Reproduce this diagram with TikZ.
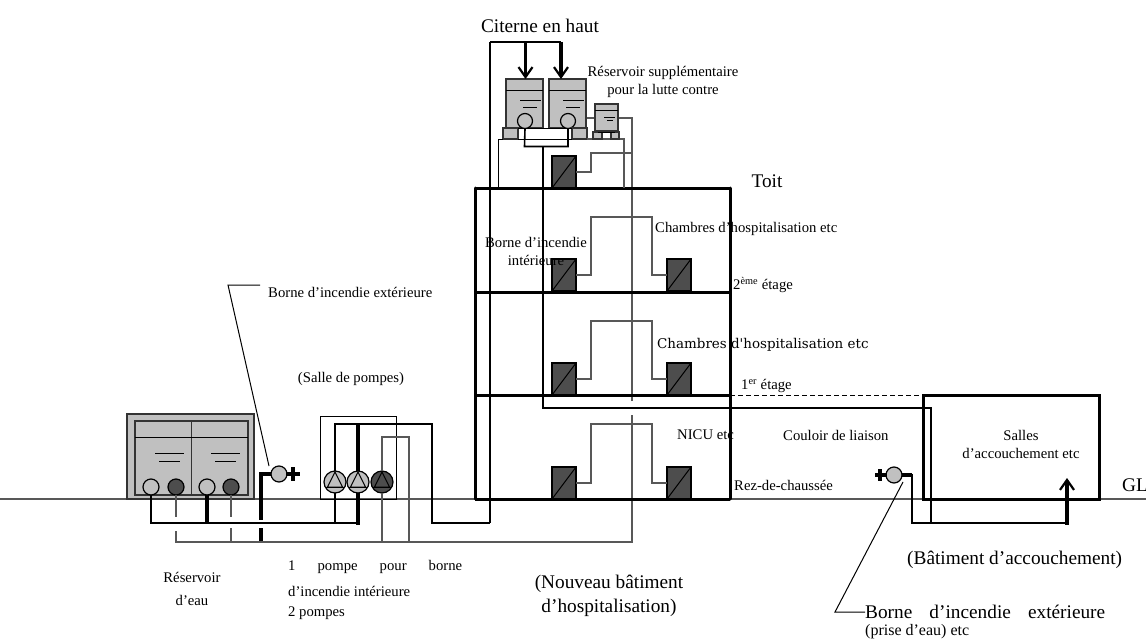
\documentclass[tikz,border=0pt]{standalone}
\usepackage{fontspec}
\setmainfont{Liberation Serif}
\newfontfamily\widefont{DejaVu Serif}
\usepackage{tikz}
\usetikzlibrary{arrows.meta,positioning,calc}
\definecolor{tankgray}{RGB}{192,192,192}
\definecolor{cabdark}{RGB}{77,77,77}
\definecolor{pipegray}{RGB}{88,88,88}
\tikzset{
  lab/.style={font=\fontsize{14.7}{18}\selectfont,inner sep=0pt,align=center},
  biglab/.style={font=\fontsize{19.3}{24}\selectfont,inner sep=0pt,align=center},
  cabinet/.style={draw=black,line width=1.4pt,fill=cabdark,minimum width=24pt,minimum height=32pt,inner sep=0pt,outer sep=0pt},
  tankbox/.style={draw=black!80,line width=1.2pt,fill=tankgray,inner sep=0pt,outer sep=0pt},
  valve/.style={circle,draw=black,line width=1.2pt,minimum size=#1,inner sep=0pt,outer sep=0pt},
  graypipe/.style={pipegray,line width=2.4pt},
  blackpipe/.style={black,line width=2.2pt},
  heavypipe/.style={black,line width=3.4pt},
  wall/.style={black,line width=3pt},
  thinline/.style={black,line width=1pt},
  downarrow/.style={black,line width=3.2pt,-{Straight Barb[length=10pt,width=14pt,line width=2.2pt]}}
}
\begin{document}
\begin{tikzpicture}[x=1pt,y=-1pt]
  \useasboundingbox (0,0) rectangle (1146,642);
  \draw[pipegray,line width=1.1pt] (0,499) -- (1146,499);

  \node[tankbox,minimum width=127pt,minimum height=85pt] (citerne) at (190.5,456.5) {};
  \node[tankbox,minimum width=56.5pt,minimum height=74pt] (cuvea) at (163.25,458) {};
  \node[tankbox,minimum width=56.5pt,minimum height=74pt] (cuveb) at (219.75,458) {};
  \draw[thinline] (135,437) -- (248,437);
  \foreach \x in {155,211} {
    \draw[thinline] (\x,453) -- ++(29,0);
    \draw[thinline] (\x+4,461.5) -- ++(21,0);
  }
  \node[valve=16pt,fill=tankgray] (va) at (151,487) {};
  \node[valve=16pt,fill=cabdark] (vb) at (176,487) {};
  \node[valve=16pt,fill=tankgray] (vc) at (207,487) {};
  \node[valve=16pt,fill=cabdark] (vd) at (231,487) {};

  \draw[thinline] (320,416) rectangle (396,499);
  \foreach \x/\n/\c in {335/pa/tankgray,358/pb/tankgray,382/pc/cabdark} {
    \node[valve=22pt,fill=\c] (\n) at (\x,482) {};
    \draw[thinline] (\x,472) -- (\x-7.5,487) -- (\x+7.5,487) -- cycle;
    \draw[thinline] (\x-10,487) -- (\x+10,487);
  }
  \draw[blackpipe] (va.south) |- (205,523) -- (358,523);
  \draw[heavypipe] (vc.south) -- (207,523);
  \draw[heavypipe] (pb.south) -- (358,524.5);
  \draw[blackpipe] (pa.south) -- (335,523);
  \draw[heavypipe] (pb.north) -- (358,424);
  \draw[blackpipe] (pa.north) |- (432,424) |- (490,523);
  \draw[graypipe] (pc.north) |- (409,437) -- (409,542);
  \draw[graypipe] (pc.south) -- (382,542);

  \node[valve=16pt,fill=tankgray] (hydrantg) at (279,474) {};
  \draw[heavypipe] (hydrantg.west) -- (261,474) -- (261,520);
  \draw[heavypipe] (261,528) -- (261,542);
  \draw[heavypipe] (286,474) -- (300,474);
  \draw[heavypipe] (293,467) -- (293,481);
  \draw[graypipe] (vb.south) -- (176,517);
  \draw[graypipe] (vd.south) -- (231,517);
  \draw[graypipe] (231,528) -- (231,542);
  \draw[graypipe] (176,531) -- (176,542) -- (632,542) -- (632,415);
  \draw[graypipe] (632,401) -- (632,118) -- (618,118);
  \draw[graypipe,line width=1.4pt] (595,118) -- (586,118);

  \foreach \y/\n in {188/toit,292/deux,395.5/un,499/rez} {
    \coordinate (\n l) at (475,\y);
    \coordinate (\n r) at (730,\y);
    \draw[wall] (\n l) -- (\n r);
  }
  \draw[wall,line cap=round] (toitl) -- (rezl);
  \draw[wall,line cap=round] (toitr) -- (rezr);
  \draw[blackpipe] (490,42) -- (490,523);
  \draw[blackpipe] (490,42) -- (561,42);

  \foreach \x/\n in {506/ra,549/rb} {
    \node[tankbox,anchor=north west,minimum width=37pt,minimum height=49pt] (\n) at (\x,79) {};
    \draw[thinline] (\x,90) -- ++(37,0);
    \draw[thinline] (\x+14,100) -- ++(21,0);
    \draw[thinline] (\x+17,107) -- ++(14,0);
    \node[valve=15pt,fill=tankgray] (\n v) at (\x+19,121) {};
  }
  \node[tankbox,minimum width=15pt,minimum height=11pt] (fa) at (510.5,133.5) {};
  \node[tankbox,minimum width=15pt,minimum height=11pt] (fb) at (579.5,133.5) {};
  \draw[downarrow] (525.5,42) -- ($(ra.north)+(1,0)$);
  \draw[downarrow] (561,42) -- (561,79);
  \draw[thinline] (fa.north east) -- (fb.north west);
  \draw[thinline,line width=1.6pt] (rav.south) -- (524.5,146.5) -| (rbv.south);
  \draw[thinline] (498,188) -- (498,139) -- (fa.south west);
  \draw[thinline] (fa.south east) -- (fb.south west);
  \draw[pipegray,line width=1.4pt] (fb.south east) -- (624,139) -- (624,188);
  \draw[blackpipe] (543,146.5) -- (543,408) -- (931,408) -- (931,523);

  \node[tankbox,minimum width=23pt,minimum height=27pt] (rc) at (606.5,117.5) {};
  \draw[thinline] (595,110) -- (618,110);
  \draw[thinline] (604,117) -- (615,117);
  \draw[thinline] (607,120.5) -- (613,120.5);
  \node[tankbox,minimum width=9pt,minimum height=7pt] (fc) at (597.5,135.5) {};
  \node[tankbox,minimum width=8pt,minimum height=7pt] (fd) at (615,135.5) {};
  \draw[thinline] (fc.north) -- (fd.north);

  \foreach \y/\t/\n in {172/153/h,275/217/d,379/321/u,483/424/z} {
    \node[cabinet] (g\n) at (564,\y) {};
    \draw[thinline] (g\n.south west) -- (g\n.north east);
  }
  \foreach \y/\t/\n in {275/217/d,379/321/u,483/424/z} {
    \node[cabinet] (c\n) at (679,\y) {};
    \draw[thinline] (c\n.south west) -- (c\n.north east);
    \draw[graypipe] (g\n.east) -- (591,\y) -- (591,\t) -- (652,\t) -- (652,\y) -- (c\n.west);
  }
  \draw[graypipe] (gh.east) -- (591,172) -- (591,153) -- (632,153);

  \draw[wall] (923,395) rectangle (1099,499);
  \draw[black,line width=1.4pt,dash pattern=on 5pt off 3pt] (730,395.5) -- (923,395.5);
  \node[valve=16pt,fill=tankgray] (hydrantd) at (894,475) {};
  \draw[heavypipe] (875,475) -- (887,475);
  \draw[heavypipe] (880,469) -- (880,481);
  \draw[heavypipe] (hydrantd.east) -- (912,475);
  \draw[blackpipe] (912,474) -- (912,523) -- (1067,523);
  \draw[downarrow] (1067,524.5) -- (1067,478);

  \coordinate (lead) at (228,285);
  \draw[thinline] (260,285) -- (lead) -- (269,466);
  \coordinate (leadb) at (835,612);
  \draw[thinline] (903,482) -- (leadb) -- (865,612);

  \node[biglab] (citernehaut) at (540,26) {Citerne en haut};
  \node[lab] (supp) at (663,82) {Réservoir supplémentaire\\pour la lutte contre};
  \node[biglab] (toitlab) at (767,181) {Toit};
  \node[lab] (bornei) at (536,251.5) {Borne d’incendie\\intérieure};
  \node[lab,anchor=west] (chama) at (655,229) {Chambres d’hospitalisation etc};
  \node[lab,anchor=west] (etage) at (733,285) {2\textsuperscript{ème} étage};
  \node[inner sep=0pt,anchor=west,font=\widefont\fontsize{13.45}{16}\selectfont] (chamb) at (657,345) {Chambres d'hospitalisation etc};
  \node[lab,anchor=west] (etagea) at (741,386) {1\textsuperscript{er} étage};
  \node[lab,anchor=west] (nicu) at (677,435) {NICU etc};
  \node[lab,anchor=west] (couloir) at (783,435) {Couloir de liaison};
  \node[lab,anchor=west] (rezlab) at (734,485) {Rez-de-chaussée};
  \node[lab] (salles) at (1021,444) {Salles\\d’accouchement etc};
  \node[biglab,anchor=west] (gl) at (1122,485) {GL};
  \node[biglab,anchor=west] (batd) at (907,560) {(Bâtiment d’accouchement)};
  \node[lab,anchor=west] (bornee) at (268,292) {Borne d’incendie extérieure};
  \node[lab] (salle) at (351,379) {(Salle de pompes)};
  \node[lab,font=\fontsize{14.7}{23}\selectfont] (reserv) at (192,588.5) {Réservoir\\d’eau};
  \node[lab,anchor=west] (pompe) at (288,567) {\makebox[174pt][s]{1 pompe pour borne}};
  \node[lab,anchor=west] (pompeb) at (288,591) {d’incendie intérieure};
  \node[lab,anchor=west] (pompec) at (288,613) {2 pompes};
  \node[biglab] (batn) at (609,596) {(Nouveau bâtiment\\d’hospitalisation)};
  \node[biglab,anchor=west] (borned) at (865,612) {\makebox[240pt][s]{Borne d’incendie extérieure}};
  \node[lab,font=\fontsize{16}{18}\selectfont,anchor=west] (prise) at (865,632) {(prise d’eau) etc};
\end{tikzpicture}
\end{document}
